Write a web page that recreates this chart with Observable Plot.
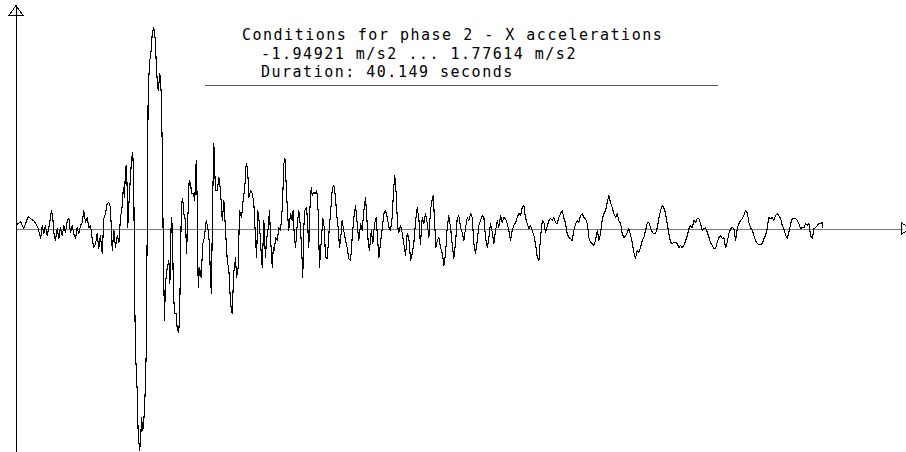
<!DOCTYPE html>
<html><head><meta charset="utf-8">
<script src="https://cdn.jsdelivr.net/npm/d3@7"></script>
<script src="https://cdn.jsdelivr.net/npm/@observablehq/plot@0.6"></script>
<style>html,body{margin:0;padding:0;background:#fff;} #chart{width:906px;height:452px;overflow:hidden;}</style>
</head><body><div id="chart"></div>
<script>
// time in seconds
const time = [
0.03,0.20,0.36,0.58,0.75,0.86,0.98,1.08,1.20,1.28,
1.36,1.44,1.53,1.61,1.69,1.74,1.81,1.86,1.94,2.03,
2.11,2.19,2.28,2.36,2.44,2.53,2.61,2.69,2.77,2.85,
2.94,3.02,3.10,3.19,3.27,3.35,3.44,3.52,3.60,3.69,
3.77,3.85,3.94,4.02,4.10,4.18,4.27,4.35,4.43,4.52,
4.60,4.68,4.77,4.85,4.93,5.02,5.10,5.18,5.27,5.32,
5.38,5.43,5.48,5.51,5.54,5.59,5.64,5.68,5.73,5.79,
5.84,5.88,5.93,6.01,6.06,6.13,6.18,6.23,6.29,6.34,
6.39,6.46,6.51,6.56,6.64,6.71,6.76,6.84,6.92,6.97,
7.06,7.14,7.21,7.26,7.31,7.37,7.42,7.51,7.59,7.64,
7.71,7.77,7.81,7.87,7.96,8.00,8.08,8.13,8.17,8.22,
8.28,8.33,8.42,8.47,8.53,8.60,8.67,8.72,8.80,8.88,
8.95,9.00,9.05,9.12,9.20,9.28,9.36,9.45,9.53,9.61,
9.66,9.71,9.76,9.83,9.91,10.00,10.08,10.16,10.25,10.33,
10.41,10.50,10.58,10.66,10.74,10.82,10.91,10.96,11.04,11.11,
11.21,11.27,11.37,11.44,11.51,11.57,11.66,11.74,11.82,11.91,
11.96,12.02,12.10,12.19,12.24,12.32,12.40,12.45,12.54,12.60,
12.67,12.74,12.79,12.85,12.90,12.99,13.07,13.15,13.24,13.32,
13.37,13.43,13.50,13.56,13.65,13.73,13.78,13.83,13.90,13.98,
14.06,14.13,14.20,14.26,14.31,14.36,14.45,14.51,14.56,14.61,
14.68,14.73,14.81,14.89,14.96,15.03,15.09,15.18,15.26,15.33,
15.39,15.48,15.56,15.64,15.73,15.81,15.89,15.94,16.02,16.09,
16.15,16.22,16.30,16.39,16.47,16.55,16.64,16.72,16.80,16.89,
16.97,17.05,17.14,17.22,17.30,17.38,17.43,17.52,17.58,17.67,
17.75,17.83,17.92,17.98,18.05,18.13,18.22,18.30,18.38,18.47,
18.55,18.63,18.71,18.78,18.84,18.91,18.98,19.04,19.13,19.21,
19.29,19.38,19.46,19.54,19.63,19.71,19.79,19.88,19.96,20.04,
20.12,20.21,20.29,20.37,20.46,20.54,20.62,20.71,20.76,20.82,
20.89,20.96,21.04,21.12,21.21,21.29,21.37,21.45,21.53,21.62,
21.70,21.78,21.87,21.95,22.03,22.12,22.20,22.28,22.37,22.45,
22.53,22.62,22.70,22.78,22.86,22.95,23.03,23.11,23.20,23.28,
23.36,23.45,23.53,23.61,23.70,23.78,23.86,23.95,24.02,24.11,
24.19,24.27,24.36,24.44,24.52,24.61,24.69,24.77,24.86,24.94,
25.02,25.11,25.19,25.27,25.35,25.44,25.52,25.60,25.69,25.77,
25.85,25.94,26.02,26.10,26.19,26.27,26.35,26.44,26.52,26.60,
26.69,26.76,26.85,26.93,27.01,27.10,27.18,27.26,27.35,27.43,
27.51,27.60,27.68,27.76,27.85,27.93,28.01,28.09,28.18,28.26,
28.34,28.43,28.51,28.59,28.68,28.76,28.84,28.93,29.01,29.09,
29.18,29.26,29.34,29.42,29.50,29.59,29.67,29.75,29.84,29.92,
30.00,30.09,30.17,30.25,30.34,30.42,30.50,30.59,30.67,30.75,
30.83,30.92,31.00,31.08,31.17,31.25,31.33,31.42,31.50,31.58,
31.67,31.75,31.83,31.92,32.00,32.08,32.16,32.24,32.33,32.41,
32.49,32.58,32.66,32.74,32.83,32.91,32.99,33.08,33.16,33.24,
33.33,33.41,33.49,33.57,33.66,33.74,33.82,33.91,33.99,34.07,
34.16,34.24,34.32,34.41,34.49,34.57,34.66,34.73,34.82,34.90,
34.98,35.07,35.15,35.23,35.32,35.40,35.48,35.57,35.65,35.73,
35.82,35.90,35.98,36.06,36.15,36.23,36.31,36.40,36.48,36.56,
36.65,36.73,36.81,36.90,36.98,37.06,37.15,37.23,37.31,37.39,
37.47,37.56,37.64,37.72,37.81,37.89,37.97,38.06,38.14,38.22,
38.31,38.39,38.47,38.56,38.64,38.72,38.80,38.89,38.97,39.05,
39.14,39.22,39.30,39.39,39.47,39.55,39.64,39.72,39.80,39.89,
39.97,40.05,40.13,40.149
];
// X acceleration in m/s2
const accel = [
0.040,0.066,0.004,0.110,0.084,0.075,0.040,0.004,-0.084,0.031,
-0.040,0.031,-0.057,0.013,0.093,0.163,0.093,-0.031,-0.101,0.004,
-0.084,0.013,-0.057,0.031,-0.031,0.075,0.093,-0.031,0.031,-0.040,
-0.084,0.013,-0.040,0.031,0.057,0.163,0.057,0.101,0.013,0.031,
-0.084,-0.163,-0.128,-0.040,-0.172,-0.057,-0.216,0.093,0.137,0.225,
0.233,0.189,-0.189,-0.013,-0.163,-0.057,-0.119,0.101,0.207,0.366,
0.278,0.542,0.559,0.366,0.013,0.189,0.366,0.454,0.621,0.674,
0.454,-0.515,-1.097,-1.423,-1.802,-1.949,-1.863,-1.661,-1.775,-1.687,
-1.537,-1.097,0.013,1.247,1.485,1.573,1.722,1.776,1.661,1.396,
1.220,1.370,1.194,0.718,-0.163,-0.806,-0.480,-0.339,-0.278,-0.480,
0.101,0.013,-0.515,-0.744,-0.744,-0.868,-0.912,-0.744,-0.216,0.225,
0.269,0.137,0.075,-0.216,0.075,0.427,0.401,0.313,0.313,0.251,
0.604,0.251,-0.515,-0.339,-0.427,-0.128,-0.075,0.075,0.013,-0.128,
-0.427,-0.568,0.163,0.753,0.339,0.339,0.454,0.339,0.075,0.251,
-0.013,-0.278,-0.366,-0.656,-0.744,-0.392,-0.251,-0.427,-0.339,0.163,
0.101,0.225,0.366,0.577,0.542,0.278,0.339,0.313,0.233,-0.101,
-0.251,0.163,0.048,-0.216,-0.339,0.075,-0.251,-0.101,0.013,0.163,
-0.128,-0.339,-0.163,-0.189,-0.075,-0.101,0.013,-0.013,0.189,0.577,
0.621,0.401,0.137,-0.013,0.137,0.075,0.163,-0.040,-0.163,0.031,
0.163,0.048,-0.163,-0.427,0.013,0.163,0.189,0.013,-0.163,0.163,
0.366,0.295,0.322,0.313,0.339,0.137,-0.339,-0.101,0.093,0.013,
-0.251,-0.260,-0.040,0.137,0.357,0.383,0.278,0.137,0.013,-0.163,
-0.075,0.075,-0.013,-0.101,-0.163,-0.260,-0.278,-0.075,0.093,0.207,
0.048,-0.101,0.048,-0.013,0.163,0.278,0.163,-0.128,-0.189,-0.013,
-0.128,0.048,0.101,-0.075,-0.251,-0.128,0.013,0.137,0.163,0.101,
0.013,-0.013,0.101,0.339,0.471,0.313,0.031,-0.031,0.031,-0.031,
-0.128,-0.233,-0.040,-0.075,-0.278,-0.216,-0.128,0.075,0.189,0.093,
-0.137,0.101,0.048,0.137,0.048,-0.075,0.163,0.269,0.295,0.075,
-0.163,-0.101,-0.075,-0.163,-0.216,-0.322,-0.216,0.004,0.119,0.013,
-0.128,-0.260,-0.119,0.093,0.119,0.013,-0.031,-0.101,0.013,0.101,
0.075,0.137,0.101,-0.128,-0.216,-0.101,0.031,0.075,0.119,0.101,
-0.075,-0.163,-0.075,0.048,-0.031,-0.128,-0.013,0.075,0.013,0.119,
0.057,0.101,0.093,0.048,-0.013,-0.101,-0.013,0.031,0.057,0.101,
0.137,0.119,0.189,0.207,0.101,0.048,0.004,0.031,-0.013,-0.057,
-0.128,-0.251,-0.278,-0.075,0.075,0.057,-0.031,0.031,0.075,0.093,
0.075,0.101,0.057,0.048,0.101,0.137,0.163,0.101,0.048,-0.040,
-0.075,-0.084,-0.101,-0.013,0.048,0.075,0.057,0.119,0.137,0.101,
0.093,0.048,-0.075,-0.119,-0.128,-0.145,-0.101,-0.013,-0.101,-0.040,
0.093,0.137,0.163,0.233,0.295,0.233,0.189,0.137,0.101,0.137,
0.075,0.048,-0.040,-0.075,-0.057,-0.031,0.004,-0.057,-0.119,-0.207,
-0.260,-0.189,-0.207,-0.163,-0.101,-0.075,-0.013,0.057,0.057,0.013,
-0.031,-0.040,-0.040,0.013,0.101,0.163,0.207,0.189,0.137,0.048,
-0.040,-0.119,-0.128,-0.119,-0.119,-0.128,-0.163,-0.145,-0.163,-0.145,
-0.101,-0.057,0.004,0.031,0.013,0.075,0.057,0.093,0.093,0.048,
-0.013,0.004,0.013,-0.031,-0.075,-0.119,-0.145,-0.172,-0.172,-0.119,
-0.075,-0.057,-0.084,-0.075,-0.163,-0.119,-0.040,0.004,0.013,0.004,
-0.101,0.004,0.048,0.075,0.093,0.119,0.163,0.145,0.057,0.013,
-0.013,-0.057,-0.101,-0.128,-0.137,-0.137,-0.128,-0.084,-0.057,0.004,
0.101,0.093,0.101,0.075,0.119,0.137,0.119,0.093,0.031,0.004,
-0.057,-0.084,-0.031,0.048,0.093,0.093,0.093,0.075,0.048,0.004,
0.013,0.013,0.048,0.031,0.048,-0.057,-0.084,0.004,0.013,0.031,
0.048,0.048,0.057,0.013
];
const titleLines = [
  "Conditions for phase 2 - X accelerations",
  "-1.94921 m/s2 ... 1.77614 m/s2",
  "Duration: 40.149 seconds"
];

const n = Math.min(time.length, accel.length);
const data = d3.range(n).map(i => ({t: time[i], a: accel[i]}));

const plot = Plot.plot({
  width: 906, height: 452,
  marginLeft: 16, marginRight: 3, marginTop: 5, marginBottom: 0,
  x: {domain: [0, 44.18], axis: null},
  y: {domain: [-1.968, 1.969], axis: null},
  style: {background: "white"},
  marks: [
    Plot.ruleY([0], {stroke: "#7a7a7a", strokeWidth: 1}),
    Plot.ruleX([0], {stroke: "black", strokeWidth: 1}),
    Plot.line(data, {x: "t", y: "a", stroke: "black", strokeWidth: 1.1})
  ]
});

const svg = d3.select(plot);
svg.attr("shape-rendering", "crispEdges");
const x0 = plot.scale("x").apply(0);
const y0 = plot.scale("y").apply(0);
// arrow heads on the axes
svg.append("path")
  .attr("d", `M${x0-7},15.5 L${x0},5.5 L${x0+7},15.5 Z`)
  .attr("fill", "none").attr("stroke", "black");
svg.append("path")
  .attr("d", `M901.5,${y0-5.5} L911,${y0} L901.5,${y0+5.5} Z`)
  .attr("fill", "none").attr("stroke", "black");
// title block
const tx = [242, 261, 261], ty = [40, 58.5, 77];
titleLines.forEach((s, i) => {
  svg.append("text")
    .attr("x", tx[i]).attr("y", ty[i])
    .attr("text-anchor", "start")
    .attr("font-family", "DejaVu Sans Mono, monospace")
    .attr("font-size", 15)
    .attr("letter-spacing", "1.5px")
    .attr("fill", "black")
    .text(s);
});
svg.append("line")
  .attr("x1", 205).attr("x2", 718).attr("y1", 85.5).attr("y2", 85.5)
  .attr("stroke", "#555");

document.getElementById("chart").appendChild(plot);
</script>
</body></html>
